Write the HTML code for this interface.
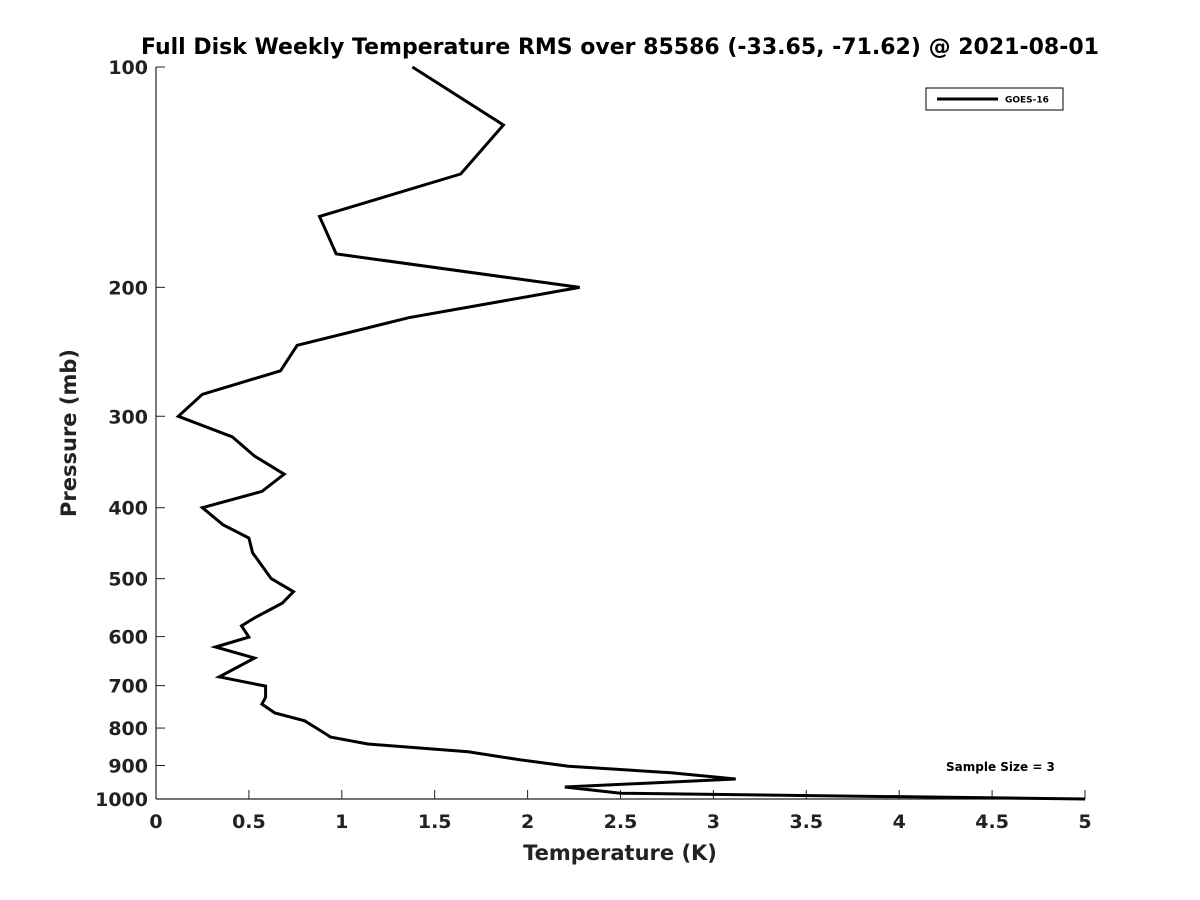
<!DOCTYPE html>
<html><head><meta charset="utf-8"><style>
html,body{margin:0;padding:0;background:#fff;}
svg{display:block;font-family:"DejaVu Sans","Liberation Sans",sans-serif;}
</style></head><body>
<svg id="chart" width="1200" height="900">
<rect width="1200" height="900" fill="#fff"/>
<text x="620" y="54" text-anchor="middle" font-size="22" font-weight="bold">Full Disk Weekly Temperature RMS over 85586 (-33.65, -71.62) @ 2021-08-01</text>
<g id="axes"></g>
<polyline id="series" fill="none" stroke="#000" stroke-width="3" stroke-linejoin="miter"/>
<text x="620" y="860" text-anchor="middle" font-size="21" font-weight="bold" fill="#222">Temperature (K)</text>
<text transform="translate(76,433) rotate(-90)" text-anchor="middle" font-size="21" font-weight="bold" fill="#222">Pressure (mb)</text>
<g>
<rect x="926" y="88" width="137" height="22" fill="#fff" stroke="#000" stroke-width="1"/>
<line x1="937" y1="99" x2="998" y2="99" stroke="#000" stroke-width="3"/>
<text x="1005" y="102.5" font-size="9" font-weight="bold">GOES-16</text>
</g>
<text x="946" y="771" font-size="12" font-weight="bold">Sample Size = 3</text>
</svg>
<script>
const temps = [1.38,1.87,1.64,0.88,0.97,2.28,1.36,0.76,0.67,0.25,0.12,0.41,0.53,0.69,0.57,0.25,0.36,0.50,0.52,0.62,0.74,0.68,0.54,0.46,0.50,0.32,0.53,0.34,0.59,0.59,0.57,0.64,0.80,0.88,0.94,1.14,1.68,1.96,2.22,2.77,3.12,2.20,2.50,5.0];
const pressures = [100,120,140,160,180,200,220,240,260,280,300,320,340,360,380,400,422,440,461,500,521,540,564,580,601,620,642,681,701,726,742,763,782,805,823,841,862,884,902,921,939,963,982,1000];
const xTicks = [0,0.5,1,1.5,2,2.5,3,3.5,4,4.5,5];
const xTickLabels = ["0","0.5","1","1.5","2","2.5","3","3.5","4","4.5","5"];
const yTicks = [100,200,300,400,500,600,700,800,900,1000];
const yTickLabels = ["100","200","300","400","500","600","700","800","900","1000"];

const X0=156,X1=1085,Y0=67,Y1=799;
function xs(v){return X0+(v-0)/(5-0)*(X1-X0);}
function ys(p){return Y0+(Math.log10(p)-2)/(3-2)*(Y1-Y0);}
const NS="http://www.w3.org/2000/svg";
const axes=document.getElementById('axes');
function mk(tag,attrs){const e=document.createElementNS(NS,tag);for(const k in attrs)e.setAttribute(k,attrs[k]);return e;}
const xl=mk('line',{x1:X0,y1:Y1,x2:X1,y2:Y1,stroke:'#222','stroke-width':1.2});


axes.appendChild(xl);
const yl=mk('line',{x1:X0,y1:Y0,x2:X0,y2:Y1,stroke:'#222','stroke-width':1.2});


axes.appendChild(yl);
xTicks.forEach((v,i)=>{
  const x=xs(v);
  const t=mk('line',{x1:x,y1:Y1,x2:x,y2:Y1-9,stroke:'#222','stroke-width':1});
  
  
  axes.appendChild(t);
  const l=mk('text',{x:x,y:Y1+29,'text-anchor':'middle','font-size':19,'font-weight':'bold',fill:'#222'});
  l.textContent=xTickLabels[i];
  
  
  axes.appendChild(l);
});
yTicks.forEach((v,i)=>{
  const y=ys(v);
  const t=mk('line',{x1:X0,y1:y,x2:X0+9,y2:y,stroke:'#222','stroke-width':1});
  
  
  axes.appendChild(t);
  const l=mk('text',{x:X0-8,y:y+7,'text-anchor':'end','font-size':19,'font-weight':'bold',fill:'#222'});
  l.textContent=yTickLabels[i];
  
  
  axes.appendChild(l);
});
document.getElementById('series').setAttribute('points',temps.map((t,i)=>xs(t).toFixed(1)+','+ys(pressures[i]).toFixed(1)).join(' '));
</script>
</body></html>
